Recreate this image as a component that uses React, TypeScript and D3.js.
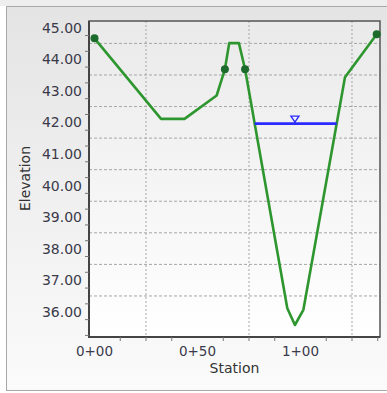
import React from "react";
import * as d3 from "d3";

const stations = [0, 32.3, 43.7, 59.3, 63.3, 65.4, 70.1, 73.1, 93.6, 97.3, 101.4, 121.6, 137.0];
const elevations = [44.66, 42.11, 42.11, 42.85, 43.68, 44.51, 44.51, 43.68, 36.11, 35.58, 36.06, 43.43, 44.79];
const markerStations = [0, 63.3, 73.1, 137.0];
const markerElevations = [44.66, 43.68, 43.68, 44.79];
const waterElevation = 41.96;
const yLabelValues = [45, 44, 43, 42, 41, 40, 39, 38, 37, 36];
const xLabelValues = [0, 50, 100];

const W = 387;
const H = 393;
const L = 89, R = 380, T = 21, B = 337;

const fmtStation = (s: number) => `${Math.floor(s / 100)}+${String(Math.round(s % 100)).padStart(2, "0")}`;

export default function App() {
  const x = d3.scaleLinear().domain([-2.67, 138.6]).range([L, R]);
  const y = d3.scaleLinear().domain([35.2, 45.21]).range([B, T]);

  const pts = stations.map((s, i) => [s, elevations[i]] as [number, number]);
  const line = d3.line<[number, number]>().x(d => x(d[0])).y(d => y(d[1]));

  // water crossings
  const crossings: number[] = [];
  for (let i = 0; i < pts.length - 1; i++) {
    const [s0, e0] = pts[i];
    const [s1, e1] = pts[i + 1];
    if ((e0 - waterElevation) * (e1 - waterElevation) < 0) {
      crossings.push(s0 + ((waterElevation - e0) / (e1 - e0)) * (s1 - s0));
    }
  }
  const wL = crossings[0];
  const wR = crossings[crossings.length - 1];
  const minIdx = elevations.indexOf(Math.min(...elevations));
  const triX = x(stations[minIdx]);
  const wy = y(waterElevation);

  const gridY: number[] = [];
  for (let v = 36.5; v < 45.2; v += 1) gridY.push(v);
  const gridX = [25, 75, 125].filter(v => x(v) < R - 5);
  const tickY: number[] = [];
  for (let v = 35.25; v < 45.21; v += 0.5) tickY.push(v);
  const tickX: number[] = [];
  for (let v = 12.5; v < 138.6; v += 12.5) if (v % 50 !== 0) tickX.push(v);

  const font = "'DejaVu Sans', Verdana, sans-serif";

  return (
    <svg width={W} height={H} style={{ position: "absolute", left: 0, top: 0 }}>
      <defs>
        <linearGradient id="panelG" x1="0" y1="0" x2="0" y2="1">
          <stop offset="0" stopColor="#e4e4e4" />
          <stop offset="1" stopColor="#fbfbfb" />
        </linearGradient>
        <linearGradient id="plotG" x1="0" y1="0" x2="0" y2="1">
          <stop offset="0" stopColor="#eaeaea" />
          <stop offset="1" stopColor="#ffffff" />
        </linearGradient>
      </defs>
      <rect x={0} y={0} width={W} height={H} fill="#ffffff" />
      <rect x={0} y={0} width={W} height={6} fill="#eeeeee" />
      <rect x={6.5} y={6.5} width={W} height={384} fill="url(#panelG)" stroke="#a8a8a8" strokeWidth={1} />
      <rect x={L} y={T} width={R - L} height={B - T} fill="url(#plotG)" />

      {gridY.map(v => (
        <line key={"gy" + v} x1={L} x2={R} y1={y(v)} y2={y(v)} stroke="#a6a6a6" strokeWidth={1} strokeDasharray="3,2" />
      ))}
      {gridX.map(v => (
        <line key={"gx" + v} x1={x(v)} x2={x(v)} y1={T} y2={B} stroke="#a6a6a6" strokeWidth={1} strokeDasharray="2,2" />
      ))}

      <rect x={L} y={T} width={R - L} height={B - T} fill="none" stroke="#555" strokeWidth={1.5} />
      <line x1={L} x2={L} y1={T} y2={B + 1} stroke="#444" strokeWidth={2} />
      <line x1={L - 1} x2={R} y1={B} y2={B} stroke="#444" strokeWidth={2} />

      {tickY.map(v => (
        <line key={"ty" + v} x1={L - 4} x2={L} y1={y(v)} y2={y(v)} stroke="#777" strokeWidth={1} />
      ))}
      {tickX.map(v => (
        <line key={"tx" + v} x1={x(v)} x2={x(v)} y1={B} y2={B + 4} stroke="#777" strokeWidth={1} />
      ))}

      {yLabelValues.map(v => (
        <text key={"ly" + v} x={82} y={y(v)} dy="0.36em" textAnchor="end" fontFamily={font} fontSize={14} fill="#3a3a4a">
          {v.toFixed(2)}
        </text>
      ))}
      {xLabelValues.map(v => (
        <text key={"lx" + v} x={x(v)} y={355.5} textAnchor="middle" fontFamily={font} fontSize={13.5} fill="#3a3a4a">
          {fmtStation(v)}
        </text>
      ))}
      <text x={234.5} y={373} textAnchor="middle" fontFamily={font} fontSize={14} fill="#333">Station</text>
      <text transform="translate(30,178.5) rotate(-90)" textAnchor="middle" fontFamily={font} fontSize={14} fill="#333">Elevation</text>

      <g clipPath="none">
        <path d={line(pts) || ""} fill="none" stroke="#2e962e" strokeWidth={2.6} strokeLinejoin="round" />
        <line x1={x(wL)} x2={x(wR)} y1={wy} y2={wy} stroke="#2b2bff" strokeWidth={2.6} />
        <path
          d={`M${triX - 4},${wy - 7.5} L${triX + 4},${wy - 7.5} L${triX},${wy - 1.5} Z`}
          fill="#f4f4ff"
          stroke="#2b2bff"
          strokeWidth={1.4}
        />
        <line x1={triX} x2={triX} y1={wy - 2} y2={wy} stroke="#2b2bff" strokeWidth={1.4} />
        {markerStations.map((s, i) => (
          <circle key={"m" + i} cx={x(s)} cy={y(markerElevations[i])} r={4} fill="#1c6b2c" />
        ))}
      </g>
    </svg>
  );
}
